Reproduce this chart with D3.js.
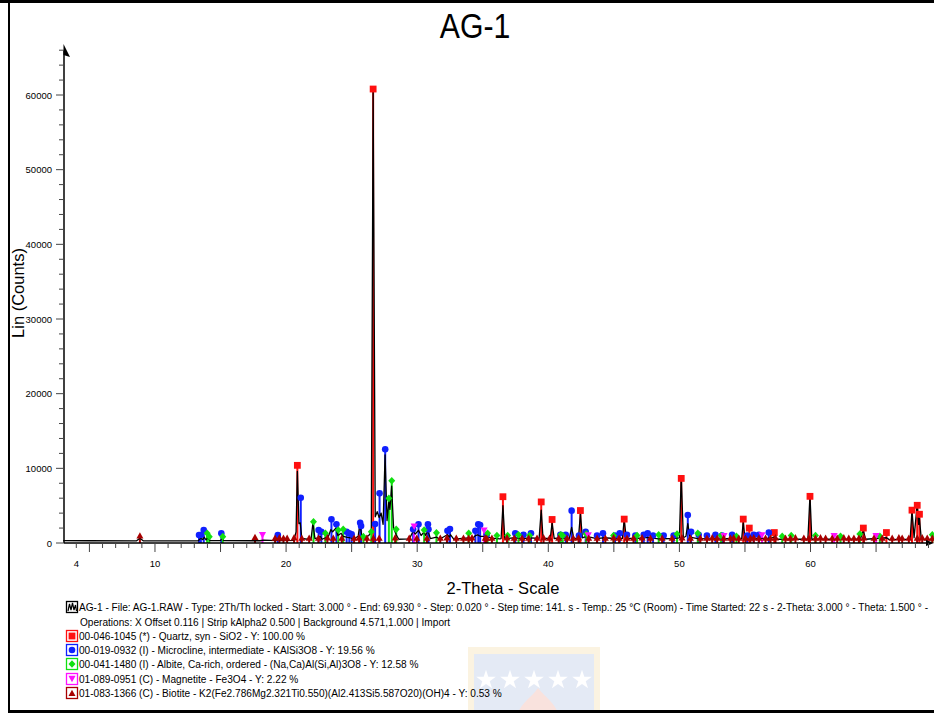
<!DOCTYPE html>
<html><head><meta charset="utf-8">
<script src="https://cdnjs.cloudflare.com/ajax/libs/d3/7.8.5/d3.min.js"></script>
<style>
html,body{margin:0;padding:0;background:#fff;}
svg{display:block;}
text{font-family:"Liberation Sans",Arial,sans-serif;}
</style></head>
<body>
<svg id="chart" width="934" height="713"></svg>
<script>
// ---------------- DATA ----------------
const title = "AG-1";
const xLabel = "2-Theta - Scale";
const yLabel = "Lin (Counts)";
const xTickLabels = [4, 10, 20, 30, 40, 50, 60];
const yTickLabels = [0, 10000, 20000, 30000, 40000, 50000, 60000];

const pattern = [
 [3.0,320],[5.0,300],[8.6,290],[8.85,650],[9.1,290],[12.0,280],[13.3,300],[13.5,650],[13.65,450],[13.75,800],[13.9,400],[14.0,700],[14.2,330],
 [15.0,320],[15.1,600],[15.25,320],[18.0,300],[18.3,380],[19.3,330],[19.4,500],[19.55,330],[20.6,360],[20.76,1500],[20.86,9600],[20.98,2600],
 [21.08,2700],[21.2,600],[21.9,450],[22.05,2700],[22.2,600],[22.45,700],[22.6,900],[22.75,500],[23.0,700],[23.15,500],[23.42,1800],[23.55,1500],
 [23.8,2000],[23.95,1000],[24.2,1300],[24.35,900],[24.6,800],[24.9,700],[25.2,600],[25.5,900],[25.63,2600],[25.78,900],[26.0,800],[26.3,1000],
 [26.5,1500],[26.64,60500],[26.8,3500],[26.95,4200],[27.1,3400],[27.25,4000],[27.4,2500],[27.55,11800],[27.7,3000],[27.84,5600],[27.92,4500],
 [28.05,7600],[28.2,2000],[28.4,1100],[28.6,500],[29.4,550],[29.7,1600],[29.85,1200],[30.1,1700],[30.3,1000],[30.53,1500],[30.65,1000],
 [30.82,1700],[31.0,600],[31.47,800],[31.7,500],[32.3,1100],[32.45,800],[32.55,1100],[32.8,500],[33.9,700],[34.2,550],[34.45,1000],[34.6,1100],
 [34.8,900],[35.1,900],[35.4,800],[35.7,650],[36.3,550],[36.4,600],[36.54,5000],[36.68,600],[37.5,700],[38.1,600],[38.7,700],[39.3,600],[39.46,4400],
 [39.6,600],[40.15,600],[40.29,2700],[40.45,600],[41.0,700],[41.6,600],[41.78,2100],[41.95,600],[42.3,700],[42.45,3900],[42.6,700],[42.9,900],
 [43.7,600],[44.2,700],[45.1,600],[45.65,600],[45.79,3150],[45.95,600],[46.6,600],[47.3,700],[47.6,750],[48.4,550],[49.5,600],[50.0,700],
 [50.14,9000],[50.3,700],[50.5,900],[50.64,2600],[50.8,800],[51.4,600],[52.0,550],[53.2,550],[54.0,600],[54.75,550],[54.87,2850],[55.0,550],
 [55.2,600],[55.33,1200],[55.5,600],[56.8,650],[57.24,800],[57.5,500],[59.8,500],[59.96,6400],[60.1,500],[62.0,500],[63.8,500],[64.03,1700],
 [64.2,500],[65.8,700],[66.0,450],[67.6,500],[67.74,4400],[67.9,700],[68.14,5300],[68.25,2500],[68.31,3300],[68.45,500],[69.93,450]
];

// phase stick patterns
const quartzPos = [20.86,26.64,36.54,39.46,40.29,42.45,45.79,50.14,54.87,55.33,57.24,59.96,64.03,65.79,67.74,68.14,68.31];
const quartzInt = [10400,60800,6200,5500,3150,4350,3200,8650,3200,2000,1400,6250,2000,1400,4400,5050,3850];

const microclinePos = [13.36,13.5,13.72,15.06,19.37,21.12,22.48,22.69,23.46,23.84,24.62,24.82,25.0,25.65,25.72,26.79,27.13,27.56,29.69,30.1,30.82,30.86,
 32.31,32.5,34.44,34.66,34.8,35.3,37.48,38.11,38.68,40.92,41.33,41.78,42.34,42.85,43.72,44.17,45.09,45.45,46.0,46.64,47.28,47.58,47.99,48.8,49.56,
 50.64,50.89,51.47,52.1,52.75,53.26,54.02,55.17,55.67,56.06,56.82];
const microclineInt = [1070,1070,1740,1300,1070,6070,1740,1510,3170,2500,1510,1300,1160,2720,2280,2540,6650,12550,1830,2500,2500,1830,
 1650,1870,1650,2500,2400,1100,1300,1100,1300,1100,1100,4330,1000,1500,1000,1300,1000,1300,1100,1000,1100,1300,1000,1000,1000,
 3750,1500,1100,1000,1100,1000,1100,1000,1100,1100,1400];

const albitePos = [13.98,14.14,15.17,22.09,23.0,23.98,24.36,25.9,26.5,27.84,28.06,28.4,30.53,31.47,33.93,35.37,36.08,36.9,37.73,38.57,40.95,41.1,
 42.9,44.98,46.77,48.42,49.82,51.4,53.18,54.35,57.84,58.53,60.38,62.29,63.76,65.29,69.29];
const albiteInt = [1300,850,850,2850,1300,1740,1830,850,1510,5980,8340,1830,1740,1380,1300,1300,1000,1000,1100,1000,1100,1000,
 1200,1000,1000,1100,1200,1300,1000,900,900,1000,1000,900,1200,900,1100];

const magnetitePos = [18.2,29.77,35.1,43.05,53.4,56.3,61.8,65.0];
const magnetiteInt = [1030,2180,1650,1000,900,1000,900,900];

const biotitePos = [8.85,17.63,19.16,19.49,19.8,20.08,20.61,21.2,21.76,22.47,23.15,23.6,24.25,25.19,25.57,26.16,26.66,27.1,28.32,29.39,29.97,30.74,
 31.76,32.27,32.98,33.53,33.92,34.18,35.19,35.3,35.7,36.85,37.4,38.0,38.5,39.14,39.64,40.1,40.79,41.43,41.9,42.31,43.08,43.72,44.35,44.98,45.4,
 46.0,46.5,47.15,47.79,48.68,49.44,50.2,50.84,51.6,52.1,52.5,52.88,53.38,53.89,54.14,54.53,55.04,55.42,55.67,56.06,56.57,56.95,57.33,58.09,
 58.47,58.85,59.49,59.87,60.38,60.76,61.15,61.65,62.04,62.54,62.92,63.31,63.69,64.07,64.84,65.47,66.23,66.74,66.99,67.5,68.14,68.52,68.9,69.29];
const biotiteInt = [1000,800,700,750,700,700,750,700,700,700,750,700,700,700,750,700,700,700,750,700,700,700,
 700,750,700,700,700,750,700,700,700,750,700,700,700,700,750,700,700,700,700,750,700,700,700,750,700,
 700,700,750,700,700,700,750,700,700,700,750,700,700,700,750,700,700,700,750,700,700,700,750,700,
 700,750,700,700,700,750,700,700,700,750,700,700,700,750,700,700,700,750,700,700,700,750,700,700];

const phases = [
 {name:"00-046-1045 (*) - Quartz, syn - SiO2 - Y: 100.00 %", color:"#ff1010", sym:"square", pos:quartzPos, val:quartzInt},
 {name:"00-019-0932 (I) - Microcline, intermediate - KAlSi3O8 - Y: 19.56 %", color:"#1020ff", sym:"circle", pos:microclinePos, val:microclineInt},
 {name:"00-041-1480 (I) - Albite, Ca-rich, ordered - (Na,Ca)Al(Si,Al)3O8 - Y: 12.58 %", color:"#10e010", sym:"diamond", pos:albitePos, val:albiteInt},
 {name:"01-089-0951 (C) - Magnetite - Fe3O4 - Y: 2.22 %", color:"#ff10ff", sym:"down", pos:magnetitePos, val:magnetiteInt},
 {name:"01-083-1366 (C) - Biotite - K2(Fe2.786Mg2.321Ti0.550)(Al2.413Si5.587O20)(OH)4 - Y: 0.53 %", color:"#a80000", sym:"up", pos:biotitePos, val:biotiteInt}
];
const headerLines = [
 "AG-1 - File: AG-1.RAW - Type: 2Th/Th locked - Start: 3.000 ° - End: 69.930 ° - Step: 0.020 ° - Step time: 141. s - Temp.: 25 °C (Room) - Time Started: 22 s - 2-Theta: 3.000 ° - Theta: 1.500 ° -",
 "Operations: X Offset 0.116 | Strip kAlpha2 0.500 | Background 4.571,1.000 | Import"
];

// ---------------- DRAW ----------------
const svg = d3.select("#chart");
const x = d3.scaleLinear().domain([3, 69.93]).range([63.2, 940.7]);
const y = d3.scaleLinear().domain([0, 60000]).range([543, 95]);
const axX0 = 64, axY0 = 543;

// watermark (very faint logo)
const wm = svg.append("g").attr("opacity", 0.16);
wm.append("rect").attr("x",468).attr("y",647).attr("width",132).attr("height",70).attr("fill","#e9b94a");
wm.append("rect").attr("x",474).attr("y",654).attr("width",120).attr("height",62).attr("fill","#5d7fc8");
const starPath = d3.symbol().type(d3.symbolStar).size(120)();
[486,510,534,558,582].forEach(sx=>{wm.append("path").attr("d",starPath).attr("transform",`translate(${sx},680)`).attr("fill","#fff");});
wm.append("path").attr("d","M518,713 C522,702 532,697 538,688 C545,697 554,702 558,713 Z").attr("fill","#e05030");

// frame
svg.append("rect").attr("x",0).attr("y",0).attr("width",934).attr("height",3).attr("fill","#000");
svg.append("rect").attr("x",8).attr("y",0).attr("width",2).attr("height",713).attr("fill","#000");
svg.append("rect").attr("x",8).attr("y",710).attr("width",926).attr("height",3).attr("fill","#000");

// title
svg.append("text").attr("x",475).attr("y",38).attr("text-anchor","middle")
  .attr("font-size",36).attr("transform","translate(475,0) scale(0.84,1) translate(-475,0)").text(title);

// sticks
const gS = svg.append("g");
phases.forEach(p=>{
  p.pos.forEach((t,i)=>{
    gS.append("line").attr("x1",x(t)).attr("x2",x(t)).attr("y1",y(0)).attr("y2",y(p.val[i]))
      .attr("stroke",p.color).attr("stroke-width",2);
  });
});

// pattern line
svg.append("path").datum(pattern)
  .attr("d", d3.line().x(d=>x(d[0])).y(d=>y(d[1])))
  .attr("fill","none").attr("stroke","#000").attr("stroke-width",1.3).attr("stroke-linejoin","round");

// markers
function sym(g, type, cx, cy, color, s){
  s = s||1;
  if(type==="square") g.append("rect").attr("x",cx-3.4*s).attr("y",cy-3.4*s).attr("width",6.8*s).attr("height",6.8*s).attr("fill",color);
  else if(type==="circle") g.append("circle").attr("cx",cx).attr("cy",cy).attr("r",3.3*s).attr("fill",color);
  else if(type==="diamond") g.append("path").attr("d",`M${cx},${cy-3.8*s}L${cx+3.5*s},${cy}L${cx},${cy+3.8*s}L${cx-3.5*s},${cy}Z`).attr("fill",color);
  else if(type==="down") g.append("path").attr("d",`M${cx-3.6*s},${cy-3.2*s}L${cx+3.6*s},${cy-3.2*s}L${cx},${cy+3.2*s}Z`).attr("fill",color);
  else if(type==="up") g.append("path").attr("d",`M${cx-3.5*s},${cy+3*s}L${cx+3.5*s},${cy+3*s}L${cx},${cy-3.3*s}Z`).attr("fill",color);
}
svg.append("clipPath").attr("id","clipP").append("rect").attr("x",0).attr("y",0).attr("width",934).attr("height",713);
const gM = svg.append("g").attr("clip-path","url(#clipP)");
phases.forEach(p=>{
  p.pos.forEach((t,i)=>{ sym(gM, p.sym, x(t), y(p.val[i]), p.color); });
});

// axes
const gA = svg.append("g");
gA.append("line").attr("x1",axX0).attr("x2",930).attr("y1",axY0).attr("y2",axY0).attr("stroke","#000").attr("stroke-width",1.5);
gA.append("path").attr("d",`M934,${axY0} L926,${axY0-3} L926,${axY0+3} Z`).attr("fill","#000");
gA.append("line").attr("x1",axX0).attr("x2",axX0).attr("y1",axY0).attr("y2",50).attr("stroke","#000").attr("stroke-width",1.5);
gA.append("path").attr("d",`M${axX0-0.5},44 L${axX0+6},57 L${axX0-0.5},55 Z`).attr("fill","#000");
// x ticks
d3.range(4, 70, 1).forEach(t=>{
  gA.append("line").attr("x1",x(t)).attr("x2",x(t)).attr("y1",axY0).attr("y2",axY0 + (t%5===0?9:5)).attr("stroke","#444").attr("stroke-width",1);
});
xTickLabels.forEach(t=>{
  gA.append("text").attr("x",x(t)).attr("y",567).attr("text-anchor","middle").attr("font-size",9.5).text(t);
});
// y ticks
d3.range(0, 66001, 2000).forEach(v=>{
  gA.append("line").attr("x1",axX0).attr("x2",axX0-(v%10000===0?8:5)).attr("y1",y(v)).attr("y2",y(v)).attr("stroke","#444").attr("stroke-width",1);
});
yTickLabels.forEach(v=>{
  gA.append("text").attr("x",52).attr("y",y(v)+3.5).attr("text-anchor","end").attr("font-size",9.5).text(v);
});
// axis titles
svg.append("text").attr("x",503).attr("y",594).attr("text-anchor","middle").attr("font-size",16.5).text(xLabel);
svg.append("text").attr("transform","translate(24,293) rotate(-90)").attr("text-anchor","middle").attr("font-size",16.5).text(yLabel);

// legend
const gL = svg.append("g");
const rowY = [607, 622, 636, 650, 664, 679, 693];
const txt0 = gL.append("text").attr("x",79).attr("y",rowY[0]+3.5).attr("font-size",10).text(headerLines[0]);
const w0 = txt0.node().getComputedTextLength();
const fac = (928-79)/w0;
txt0.attr("textLength", 928-79).attr("lengthAdjust","spacingAndGlyphs");
function legText(str, xx, yy){
  const t = gL.append("text").attr("x",xx).attr("y",yy+3.5).attr("font-size",10).text(str);
  const w = t.node().getComputedTextLength();
  t.attr("textLength", w*fac).attr("lengthAdjust","spacingAndGlyphs");
}
legText(headerLines[1], 80, rowY[1]);
// pattern icon
gL.append("rect").attr("x",66.5).attr("y",rowY[0]-5.5).attr("width",11).attr("height",11).attr("fill","#fff").attr("stroke","#000").attr("stroke-width",1.3);
gL.append("path").attr("d",`M68,${rowY[0]+4} L69.5,${rowY[0]-3} L71,${rowY[0]+3} L72.5,${rowY[0]-4} L74,${rowY[0]+3} L75.5,${rowY[0]-2} L76.5,${rowY[0]+4}`).attr("fill","none").attr("stroke","#000").attr("stroke-width",1.2);
phases.forEach((p,i)=>{
  const cy = rowY[i+2];
  gL.append("rect").attr("x",66.5).attr("y",cy-5.5).attr("width",11).attr("height",11).attr("fill","#fff").attr("stroke",p.color).attr("stroke-width",1.3);
  sym(gL, p.sym, 72, cy, p.color, 1.0);
  legText(p.name, 79, cy);
});
</script>
</body></html>
